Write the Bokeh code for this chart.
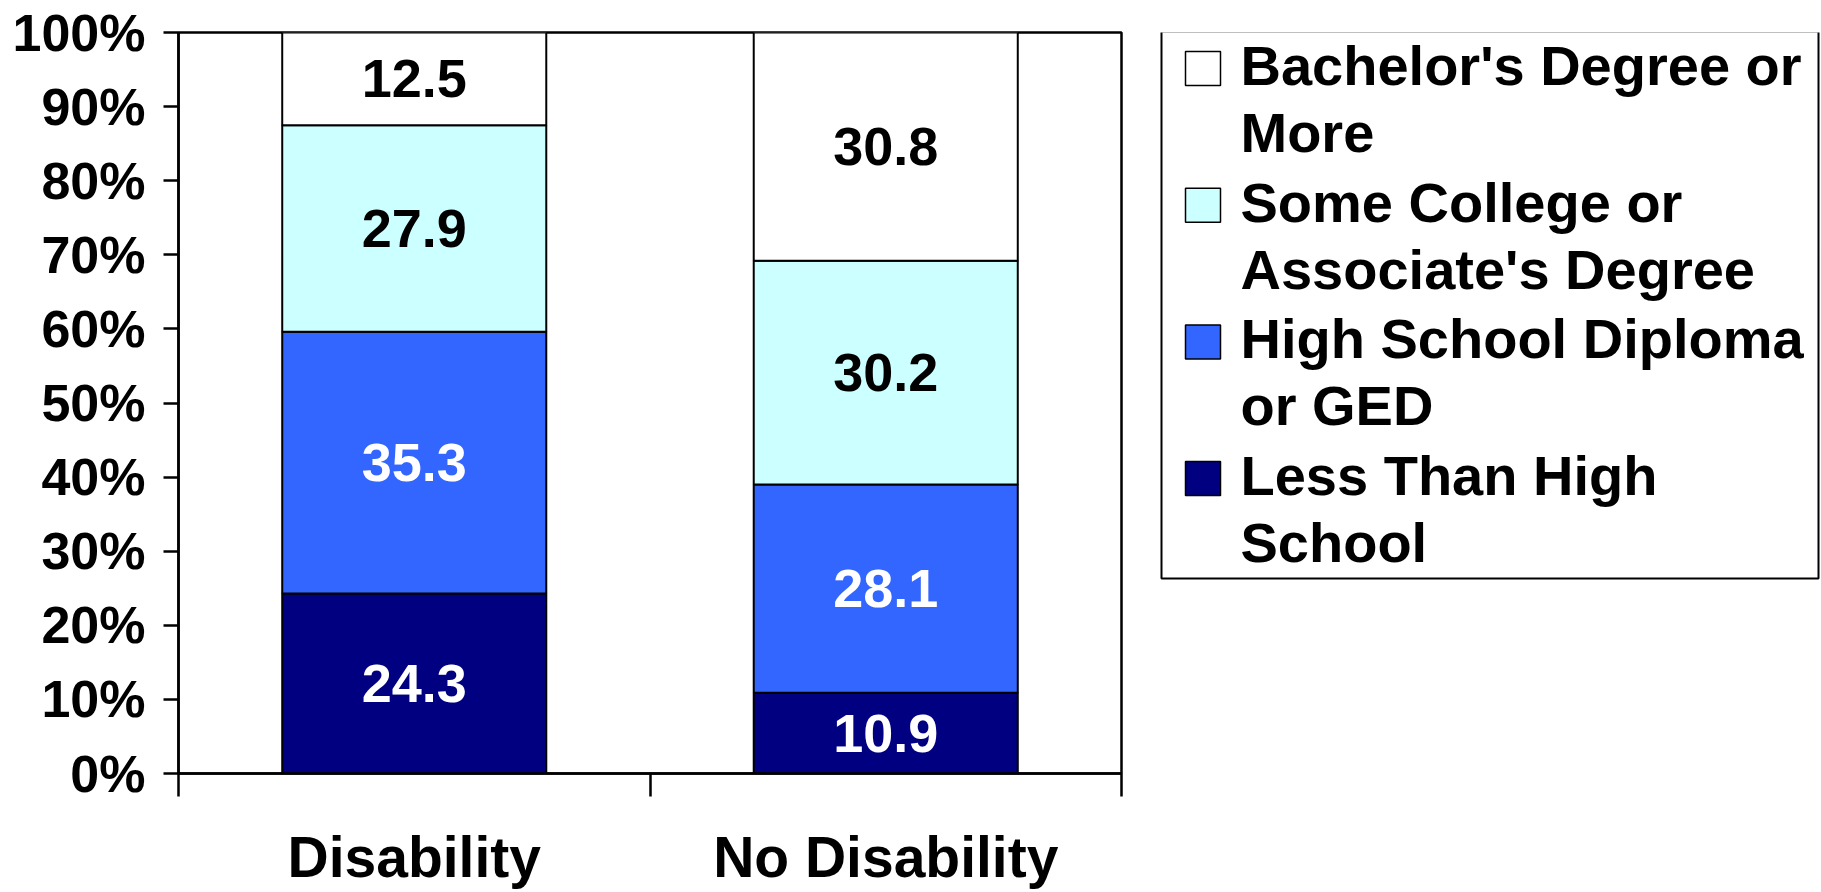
from bokeh.plotting import figure
from bokeh.models import (ColumnDataSource, Range1d, LinearAxis,
                          FixedTicker, PrintfTickFormatter)
from bokeh.layouts import row
from bokeh.embed import file_html
from bokeh.resources import INLINE
from bokeh.core.properties import value

# ---------------- data ----------------
categories = ["Disability", "No Disability"]
less_than_high_school = [24.3, 10.9]
high_school_diploma = [35.3, 28.1]
some_college = [27.9, 30.2]
bachelors_or_more = [12.5, 30.8]

series_keys = ["less_hs", "hs_diploma", "some_college", "bachelors"]
series_values = [less_than_high_school, high_school_diploma, some_college, bachelors_or_more]
series_labels = [["Less Than High", "School"],
                 ["High School Diploma", "or GED"],
                 ["Some College or", "Associate's Degree"],
                 ["Bachelor's Degree or", "More"]]
series_colors = ["#000080", "#3366FF", "#CCFFFF", "#FFFFFF"]
value_text_colors = ["white", "white", "black", "black"]
y_ticks = [0, 10, 20, 30, 40, 50, 60, 70, 80, 90, 100]

FONT = "Liberation Sans"

# category slots on a numeric axis: slot i spans [i, i+1], centre at i+0.5
n = len(categories)
centers = [i + 0.5 for i in range(n)]
edges = list(range(n + 1))

# layout (page pixels)
PAGE_H = 892
FRAME_L, FRAME_R, FRAME_T, FRAME_B = 178, 1121, 32, 773
MAIN_W = 1151

# ---------------- main chart ----------------
data = {"x": centers}
for k, v in zip(series_keys, series_values):
    data[k] = v
source = ColumnDataSource(data)

p = figure(x_range=Range1d(0, n), y_range=Range1d(0, 100),
           width=MAIN_W, height=PAGE_H,
           min_border_left=FRAME_L, min_border_right=MAIN_W - FRAME_R,
           min_border_top=FRAME_T, min_border_bottom=PAGE_H - FRAME_B,
           output_backend="svg", toolbar_location=None,
           x_axis_location=None)
p.background_fill_color = "white"
p.border_fill_color = "white"
p.outline_line_color = "black"
p.outline_line_width = 2.5
p.outline_line_alpha = 1.0
p.xgrid.visible = False
p.ygrid.visible = False

p.vbar_stack(series_keys, x="x", width=0.56, source=source,
             fill_color=series_colors, line_color="black", line_width=2)

# value labels in each segment
cum = [0.0] * n
for i, vals in enumerate(series_values):
    mids = [c + v / 2.0 for c, v in zip(cum, vals)]
    cum = [c + v for c, v in zip(cum, vals)]
    lab_src = ColumnDataSource(dict(x=centers, y=mids,
                                    text=["%.1f" % v for v in vals]))
    p.text(x="x", y="y", text="text", source=lab_src,
           text_align="center", text_baseline="middle",
           text_font=value(FONT), text_font_style="bold",
           text_font_size="54px", text_color=value_text_colors[i])

# y axis
yax = p.yaxis[0]
yax.ticker = FixedTicker(ticks=y_ticks, minor_ticks=[])
yax.formatter = PrintfTickFormatter(format="%d%%")
yax.major_tick_in = 0
yax.major_tick_out = 15
yax.major_tick_line_width = 2.5
yax.axis_line_width = 2.5
yax.major_label_standoff = 18
yax.major_label_text_font = FONT
yax.major_label_text_font_style = "bold"
yax.major_label_text_font_size = "52px"
yax.major_label_text_color = "black"

# x axis: tick marks at category boundaries
edge_axis = LinearAxis(ticker=FixedTicker(ticks=edges, minor_ticks=[]),
                       major_tick_in=0, major_tick_out=23,
                       major_tick_line_width=2.5, axis_line_width=2.5,
                       minor_tick_line_color=None,
                       major_label_overrides={e: "" for e in edges},
                       major_label_text_font_size="1px",
                       major_label_standoff=0)
p.add_layout(edge_axis, "below")

# x axis: category names at slot centres
cat_axis = LinearAxis(ticker=FixedTicker(ticks=centers, minor_ticks=[]),
                      major_label_overrides={c: name for c, name in zip(centers, categories)},
                      axis_line_color=None, major_tick_line_color=None,
                      minor_tick_line_color=None,
                      major_label_text_font=FONT,
                      major_label_text_font_style="bold",
                      major_label_text_font_size="57px",
                      major_label_text_color="black",
                      major_label_standoff=22)
p.add_layout(cat_axis, "below")

# ---------------- legend panel ----------------
# Its frame is aligned with the main frame by the row layout; y range maps page pixels.
LX0, LX1 = MAIN_W, 1821
BOX_L, BOX_R, BOX_T, BOX_B = 1161, 1818, 31, 578
SW_X, SW_W, SW_H = 1202.5, 35, 34
TEXT_X = 1240
FIRST_CY = 68
STEP = 136.7
LINE_GAP = 67
BASE_OFF = -3

q = figure(width=LX1 - LX0, height=PAGE_H,
           x_range=Range1d(LX0, LX1), y_range=Range1d(FRAME_B, FRAME_T),
           min_border_left=0, min_border_right=0,
           min_border_top=FRAME_T, min_border_bottom=PAGE_H - FRAME_B,
           output_backend="svg", toolbar_location=None,
           x_axis_location=None, y_axis_location=None)
q.outline_line_color = None
q.background_fill_color = "white"
q.border_fill_color = "white"
q.grid.visible = False

q.quad(left=[BOX_L], right=[BOX_R], top=[BOX_T], bottom=[BOX_B],
       fill_color=None, line_color="black", line_width=2)

order = list(reversed(range(len(series_keys))))
for j, i in enumerate(order):
    cy = FIRST_CY + j * STEP
    q.rect(x=[SW_X], y=[cy], width=SW_W, height=SW_H,
           fill_color=series_colors[i], line_color="black", line_width=1.5)
    lines = series_labels[i]
    q.text(x=[TEXT_X] * len(lines),
           y=[cy + BASE_OFF + k * LINE_GAP for k in range(len(lines))],
           text=lines, text_align="left", text_baseline="alphabetic",
           text_font=value(FONT), text_font_style="bold",
           text_font_size="56px", text_color="black")

layout = row(p, q)
open("out.html", "w").write(file_html(layout, INLINE))
